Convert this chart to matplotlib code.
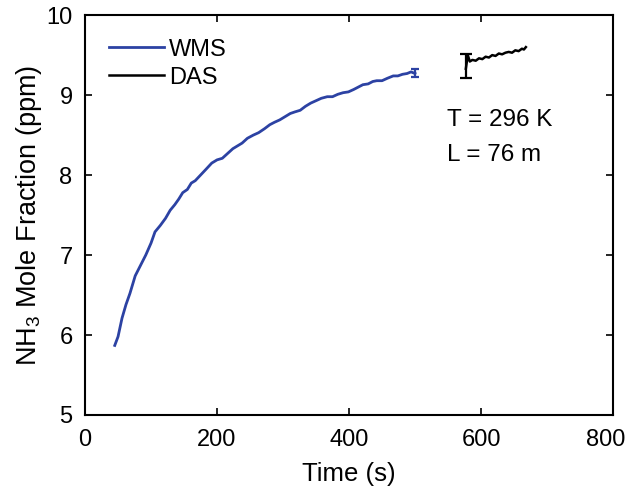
import matplotlib
matplotlib.use('Agg')
import matplotlib.pyplot as plt
import matplotlib.transforms as mtransforms

plt.rcParams['font.family'] = ['Liberation Sans', 'DejaVu Sans']
plt.rcParams['mathtext.fontset'] = 'custom'
plt.rcParams['mathtext.rm'] = 'Liberation Sans'
plt.rcParams['mathtext.it'] = 'Liberation Sans:italic'

# WMS trace (time in s, NH3 in ppm)
wms_t = [45, 50, 56, 62, 68, 76, 84, 92, 100, 106, 114, 122, 129, 136, 142, 148,
         155, 161, 167, 175, 183, 192, 200, 208, 216, 224, 230, 238, 246, 255,
         263, 272, 280, 287, 295, 303, 311, 318, 326, 334, 342, 350, 358, 367,
         375, 383, 391, 399, 407, 414, 421, 429, 436, 442, 450, 458, 467, 474,
         481, 488, 494, 500]
wms_y = [5.87, 5.98, 6.21, 6.38, 6.52, 6.74, 6.87, 7.00, 7.15, 7.29, 7.37, 7.46,
         7.56, 7.63, 7.70, 7.78, 7.82, 7.90, 7.93, 8.00, 8.07, 8.15, 8.19, 8.21,
         8.27, 8.33, 8.36, 8.40, 8.46, 8.50, 8.53, 8.58, 8.63, 8.66, 8.69, 8.73,
         8.77, 8.79, 8.81, 8.86, 8.90, 8.93, 8.96, 8.98, 8.98, 9.01, 9.03, 9.04,
         9.07, 9.10, 9.13, 9.14, 9.17, 9.18, 9.18, 9.21, 9.24, 9.24, 9.26, 9.27,
         9.29, 9.27]
wms_err_t = 500
wms_err_y = 9.28
wms_err = 0.05

# DAS trace
das_t = [577, 580, 583, 587, 592, 597, 602, 607, 612, 617, 622, 627, 632, 637,
         642, 647, 652, 657, 662, 665, 668]
das_y = [9.33, 9.50, 9.42, 9.44, 9.43, 9.46, 9.45, 9.48, 9.47, 9.50, 9.49,
         9.52, 9.51, 9.53, 9.54, 9.53, 9.56, 9.55, 9.58, 9.57, 9.60]
das_err_t = 578
das_err_y = 9.37
das_err = 0.15

blue = '#2c42a3'

fig = plt.figure(figsize=(6.3, 4.88), dpi=100)
ax = fig.add_axes([0.135, 0.1496, 0.838, 0.8194])

ax.plot(wms_t, wms_y, color=blue, lw=2, label='WMS')
ax.plot(das_t, das_y, color='black', lw=1.8, label='DAS')
ax.errorbar([wms_err_t], [wms_err_y], yerr=wms_err, color=blue, lw=1.6,
            capsize=3, capthick=1.6)
ax.errorbar([das_err_t], [das_err_y], yerr=das_err, color='black', lw=1.6,
            capsize=4, capthick=1.6)

ax.text(548, 8.69, 'T = 296 K', fontsize=17.5, va='center')
ax.text(548, 8.25, 'L = 76 m', fontsize=17.5, va='center')

ax.set_xlim(0, 800)
ax.set_ylim(5, 10)
ax.set_xticks([0, 200, 400, 600, 800])
ax.set_yticks([5, 6, 7, 8, 9, 10])
ax.tick_params(direction='in', top=True, right=True, labelsize=17, length=5,
               width=1.2)
ax.tick_params(axis='x', pad=10)
ax.tick_params(axis='y', pad=9)
for s in ax.spines.values():
    s.set_linewidth(1.5)

# keep the last x tick label inside the figure
fig.canvas.draw()
last = ax.get_xticklabels()[-1]
last.set_transform(last.get_transform() +
                   mtransforms.ScaledTranslation(-7 / 100, 0, fig.dpi_scale_trans))

ax.set_xlabel('Time (s)', fontsize=18.5, labelpad=8)
ax.set_ylabel(r'NH$_3$ Mole Fraction (ppm)', fontsize=19.5, labelpad=2)

ax.legend(loc='upper left', frameon=False, fontsize=17, handlelength=2.35,
          handletextpad=0.2, labelspacing=0.25, borderaxespad=0.6)

fig.savefig('out.png', dpi=100)
